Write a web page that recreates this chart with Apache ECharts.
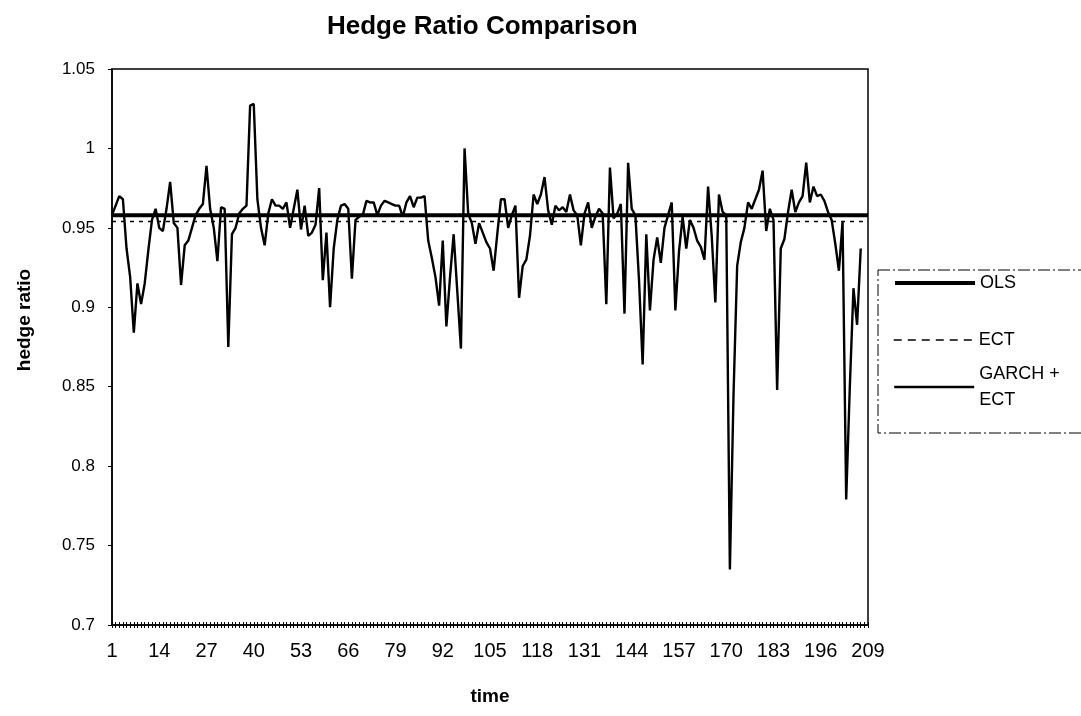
<!DOCTYPE html>
<html>

<head>
    <meta charset="UTF-8">
    <title>Hedge Ratio Comparison</title>
    <style>
        html, body { margin: 0; padding: 0; background: #fff; }
    </style>
</head>

<body>
    <div id="container" style="width: 1081px;height: 716px;"></div>
    <script src="https://cdn.jsdelivr.net/npm/echarts@6/dist/echarts.min.js"></script>
    <script type="text/javascript">
        // time axis: 1..209
        var categories = Array.from({ length: 209 }, function (_, k) { return String(k + 1); });

        // constant hedge ratios
        var olsLevel = 0.958;
        var ectLevel = 0.954;

        // GARCH + ECT time varying hedge ratio
        var garchEct = [
            0.958, 0.964, 0.970, 0.968, 0.937, 0.919, 0.884, 0.915, 0.902, 0.915,
            0.936, 0.955, 0.962, 0.950, 0.948, 0.962, 0.979, 0.953, 0.950, 0.914,
            0.939, 0.942, 0.950, 0.958, 0.962, 0.965, 0.989, 0.962, 0.950, 0.929,
            0.963, 0.962, 0.875, 0.946, 0.950, 0.959, 0.962, 0.964, 1.027, 1.028,
            0.968, 0.950, 0.939, 0.959, 0.968, 0.964, 0.964, 0.962, 0.966, 0.950,
            0.962, 0.974, 0.949, 0.964, 0.945, 0.947, 0.952, 0.975, 0.917, 0.947,
            0.900, 0.937, 0.955, 0.964, 0.965, 0.962, 0.918, 0.955, 0.957, 0.958,
            0.967, 0.966, 0.966, 0.958, 0.964, 0.967, 0.966, 0.965, 0.964, 0.964,
            0.957, 0.966, 0.970, 0.963, 0.969, 0.969, 0.970, 0.942, 0.931, 0.919,
            0.901, 0.942, 0.888, 0.919, 0.946, 0.910, 0.874, 1.000, 0.959, 0.953,
            0.940, 0.953, 0.947, 0.941, 0.937, 0.923, 0.946, 0.968, 0.968, 0.950,
            0.958, 0.964, 0.906, 0.926, 0.930, 0.945, 0.971, 0.965, 0.971, 0.982,
            0.961, 0.952, 0.964, 0.961, 0.963, 0.960, 0.971, 0.961, 0.958, 0.939,
            0.959, 0.966, 0.950, 0.957, 0.962, 0.959, 0.902, 0.988, 0.956, 0.959,
            0.965, 0.896, 0.991, 0.962, 0.958, 0.917, 0.864, 0.946, 0.898, 0.930,
            0.944, 0.928, 0.950, 0.958, 0.966, 0.898, 0.935, 0.957, 0.937, 0.955,
            0.950, 0.942, 0.938, 0.930, 0.976, 0.945, 0.903, 0.971, 0.960, 0.958,
            0.735, 0.845, 0.926, 0.941, 0.950, 0.966, 0.962, 0.968, 0.974, 0.986,
            0.948, 0.962, 0.955, 0.848, 0.937, 0.943, 0.960, 0.974, 0.960, 0.966,
            0.970, 0.991, 0.966, 0.976, 0.970, 0.971, 0.967, 0.960, 0.955, 0.940,
            0.923, 0.954, 0.779, 0.850, 0.912, 0.889, 0.937
        ];

        var fontFamily = '"Liberation Sans", Arial, sans-serif';

        // legend boxes: line sample only, no marker in the middle
        var legendBase = {
            left: 893,
            orient: 'vertical',
            padding: 0,
            itemWidth: 80,
            itemHeight: 14,
            itemStyle: { color: 'rgba(0,0,0,0)', borderColor: 'rgba(0,0,0,0)', borderWidth: 0, opacity: 0 },
            textStyle: { color: '#000', fontFamily: fontFamily, fontSize: 18, lineHeight: 26 }
        };

        var myChart = echarts.init(document.getElementById('container'));
        var option = {
            backgroundColor: '#fff',
            animation: false,
            title: {
                text: 'Hedge Ratio Comparison',
                left: 322,
                top: 9,
                textStyle: {
                    color: '#000',
                    fontFamily: fontFamily,
                    fontWeight: 'bold',
                    fontSize: 26
                }
            },
            grid: {
                left: 112,
                right: 213,
                top: 69,
                bottom: 91,
                show: true,
                borderColor: '#000',
                borderWidth: 1.5,
                backgroundColor: '#fff'
            },
            legend: [
                Object.assign({}, legendBase, {
                    data: ['OLS'], top: 270,
                    lineStyle: { color: '#000', width: 4 }
                }),
                Object.assign({}, legendBase, {
                    data: ['ECT'], top: 327,
                    lineStyle: { color: '#000', width: 1.5, type: [8, 6] }
                }),
                Object.assign({}, legendBase, {
                    data: ['GARCH + ECT'],
                    top: 348,
                    lineStyle: { color: '#000', width: 2.4 },
                    formatter: function () { return 'GARCH +\nECT'; },
                    textStyle: { color: '#000', fontFamily: fontFamily, fontSize: 18, lineHeight: 26, padding: [26, 0, 0, 0] }
                })
            ],
            graphic: [{
                type: 'rect',
                shape: { x: 878, y: 270, width: 230, height: 163 },
                style: { fill: 'none', stroke: '#000', lineWidth: 1, lineDash: [12, 3, 2, 3] },
                z: 10
            }],
            xAxis: [{
                type: 'category',
                data: categories,
                boundaryGap: false,
                name: 'time',
                nameLocation: 'middle',
                nameGap: 62,
                nameTextStyle: { color: '#000', fontFamily: fontFamily, fontWeight: 'bold', fontSize: 19 },
                axisLine: { lineStyle: { color: '#000', width: 1.5 } },
                axisTick: { show: true, interval: 0, length: 3, lineStyle: { color: '#000' } },
                axisLabel: {
                    interval: 12,
                    margin: 16,
                    color: '#000',
                    fontFamily: fontFamily,
                    fontSize: 20
                },
                splitLine: { show: false }
            }, {
                type: 'category',
                data: categories,
                boundaryGap: false,
                position: 'bottom',
                axisLine: { show: false },
                axisTick: { show: true, inside: true, interval: 0, length: 3, lineStyle: { color: '#000' } },
                axisLabel: { show: false },
                splitLine: { show: false }
            }],
            yAxis: {
                type: 'value',
                min: 0.7,
                max: 1.05,
                interval: 0.05,
                name: 'hedge ratio',
                nameLocation: 'middle',
                nameGap: 78,
                nameTextStyle: {
                    color: '#000', fontFamily: fontFamily, fontWeight: 'bold', fontSize: 19,
                    padding: [0, 0, 0, 54]
                },
                axisLine: { show: true, lineStyle: { color: '#000', width: 1.5 } },
                axisTick: { show: true, length: 4, lineStyle: { color: '#000' } },
                axisLabel: {
                    margin: 17,
                    color: '#000',
                    fontFamily: fontFamily,
                    fontSize: 17,
                    formatter: function (v) { return String(+v.toFixed(2)); }
                },
                splitLine: { show: false }
            },
            series: [{
                name: 'OLS',
                type: 'line',
                data: [[categories[0], olsLevel], [categories[categories.length - 1], olsLevel]],
                symbol: 'none',
                z: 3,
                lineStyle: { color: '#000', width: 4 },
                itemStyle: { color: '#000' }
            }, {
                name: 'ECT',
                type: 'line',
                data: [[categories[0], ectLevel], [categories[categories.length - 1], ectLevel]],
                symbol: 'none',
                z: 2,
                lineStyle: { color: '#000', width: 1.5, type: [4, 5] },
                itemStyle: { color: '#000' }
            }, {
                name: 'GARCH + ECT',
                type: 'line',
                data: garchEct,
                symbol: 'none',
                z: 4,
                lineStyle: { color: '#000', width: 2.4 },
                itemStyle: { color: '#000' }
            }]
        };
        myChart.setOption(option);
    </script>
</body>

</html>
